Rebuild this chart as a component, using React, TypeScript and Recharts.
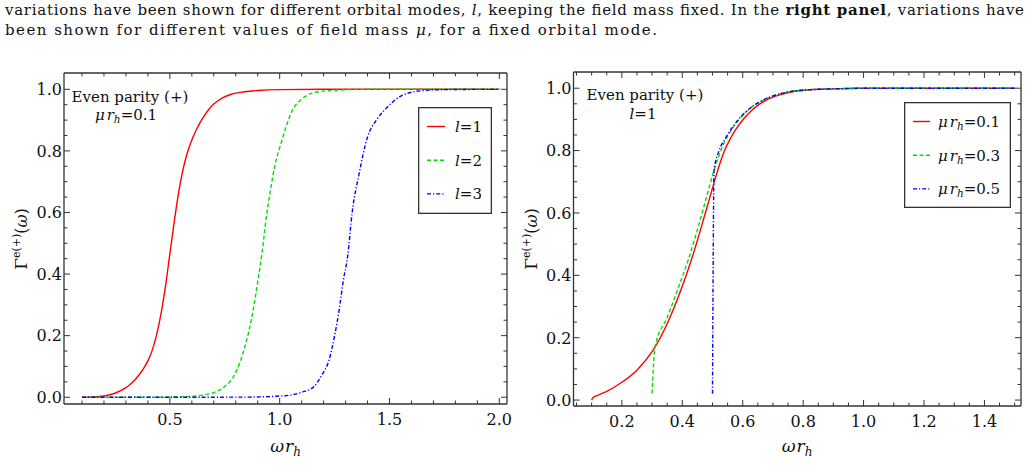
import React from 'react';
import { LineChart, Line, XAxis, YAxis, Legend } from 'recharts';

// ---------- Left panel data (fixed mass, varying l) ----------
const l1Omega = [0.1, 0.15, 0.2, 0.25, 0.3, 0.32, 0.34, 0.36, 0.38, 0.4, 0.42, 0.44, 0.46, 0.48, 0.5, 0.52, 0.54, 0.56, 0.58, 0.6, 0.62, 0.64, 0.66, 0.68, 0.7, 0.74, 0.78, 0.84, 0.9, 1.0, 1.2, 1.6, 2.0];
const l1Gamma = [0, 0.001, 0.004, 0.013, 0.031, 0.042, 0.056, 0.073, 0.093, 0.118, 0.153, 0.204, 0.272, 0.36, 0.465, 0.57, 0.665, 0.74, 0.795, 0.835, 0.868, 0.895, 0.918, 0.937, 0.952, 0.972, 0.984, 0.992, 0.996, 0.999, 1, 1, 1];

const l2Omega = [0.1, 0.5, 0.6, 0.65, 0.7, 0.75, 0.79, 0.82, 0.84, 0.86, 0.88, 0.9, 0.92, 0.94, 0.96, 0.98, 1.0, 1.03, 1.06, 1.1, 1.15, 1.25, 1.4, 2.0];
const l2Gamma = [0, 0.0005, 0.003, 0.007, 0.015, 0.035, 0.067, 0.115, 0.16, 0.215, 0.285, 0.375, 0.47, 0.59, 0.68, 0.76, 0.81, 0.88, 0.935, 0.968, 0.988, 0.997, 1, 1];

const l3Omega = [0.1, 0.8, 0.95, 1.0, 1.05, 1.1, 1.156, 1.19, 1.225, 1.25, 1.27, 1.29, 1.31, 1.33, 1.36, 1.4, 1.44, 1.48, 1.55, 1.64, 1.75, 2.0];
const l3Gamma = [0, 0.0002, 0.002, 0.004, 0.007, 0.016, 0.034, 0.07, 0.121, 0.2, 0.28, 0.38, 0.46, 0.6, 0.72, 0.845, 0.9, 0.935, 0.977, 0.995, 0.999, 1];

// ---------- Right panel data (l = 1, varying mass) ----------
const mu1Omega = [0.1, 0.105, 0.12, 0.15, 0.2, 0.25, 0.3, 0.35, 0.4, 0.42, 0.44, 0.46, 0.48, 0.5, 0.52, 0.54, 0.56, 0.58, 0.6, 0.62, 0.65, 0.68, 0.72, 0.76, 0.82, 0.9, 1.0, 1.5];
const mu1Gamma = [0, 0.008, 0.015, 0.028, 0.057, 0.096, 0.155, 0.245, 0.365, 0.42, 0.48, 0.545, 0.612, 0.68, 0.745, 0.8, 0.84, 0.872, 0.898, 0.92, 0.945, 0.963, 0.978, 0.988, 0.995, 0.998, 1, 1];

const mu3Omega = [0.3, 0.31, 0.35, 0.4, 0.42, 0.44, 0.46, 0.48, 0.5, 0.52, 0.54, 0.56, 0.58, 0.6, 0.63, 0.66, 0.7, 0.75, 0.82, 0.9, 1.0, 1.5];
const mu3Gamma = [0.021, 0.171, 0.265, 0.395, 0.45, 0.513, 0.58, 0.65, 0.72, 0.78, 0.828, 0.862, 0.89, 0.913, 0.94, 0.958, 0.975, 0.988, 0.995, 0.998, 1, 1];

const mu5Omega = [0.5, 0.502, 0.505, 0.52, 0.54, 0.56, 0.58, 0.6, 0.63, 0.66, 0.7, 0.75, 0.82, 0.9, 1.0, 1.5];
const mu5Gamma = [0.02, 0.4, 0.735, 0.795, 0.835, 0.866, 0.893, 0.915, 0.94, 0.958, 0.975, 0.988, 0.995, 0.998, 1, 1];

// ---------- Ticks ----------
const leftXTicks = [0.1, 0.2, 0.3, 0.4, 0.5, 0.6, 0.7, 0.8, 0.9, 1.0, 1.1, 1.2, 1.3, 1.4, 1.5, 1.6, 1.7, 1.8, 1.9, 2.0];
const leftXMajor = [0.5, 1.0, 1.5, 2.0];
const rightXTicks = [0.05, 0.1, 0.15, 0.2, 0.25, 0.3, 0.35, 0.4, 0.45, 0.5, 0.55, 0.6, 0.65, 0.7, 0.75, 0.8, 0.85, 0.9, 0.95, 1.0, 1.05, 1.1, 1.15, 1.2, 1.25, 1.3, 1.35, 1.4, 1.45, 1.5];
const rightXMajor = [0.2, 0.4, 0.6, 0.8, 1.0, 1.2, 1.4];
const yTicks = [0, 0.05, 0.1, 0.15, 0.2, 0.25, 0.3, 0.35, 0.4, 0.45, 0.5, 0.55, 0.6, 0.65, 0.7, 0.75, 0.8, 0.85, 0.9, 0.95, 1.0];
const yMajor = [0, 0.2, 0.4, 0.6, 0.8, 1.0];

const leftNames = ['l=1', 'l=2', 'l=3'];
const rightNames = ['0.1', '0.3', '0.5'];

const FONT = '"DejaVu Serif", serif';
const CAPTION_FONT = '"DejaVu Serif", serif';
const FRAME = '#333333';
const COLORS = ['#ff0000', '#00dd00', '#0000ff'];
const DASHES = [undefined, '4 2.5', '4 2 1.2 2'];

type Pt = { x: number; y: number };
const zip = (xs: number[], ys: number[]): Pt[] => xs.map((x, i) => ({ x, y: ys[i] }));
const near = (a: number, list: number[]) => list.some((m) => Math.abs(m - a) < 1e-6);

function makeTick(side: 'bottom' | 'top' | 'left' | 'right', majors: number[], label: boolean) {
  return (props: any) => {
    const { x, y, payload } = props;
    const v = Number(payload.value);
    const major = near(v, majors);
    const len = major ? 6 : 3.5;
    let x2 = x;
    let y2 = y;
    if (side === 'bottom') y2 = y - len;
    if (side === 'top') y2 = y + len;
    if (side === 'left') x2 = x + len;
    if (side === 'right') x2 = x - len;
    return (
      <g>
        <line x1={x} y1={y} x2={x2} y2={y2} stroke={FRAME} strokeWidth={1} />
        {label && major && side === 'bottom' && (
          <text x={x} y={y + 21} textAnchor="middle" fontFamily={FONT} fontSize={16} fill="#111">
            {v.toFixed(1)}
          </text>
        )}
        {label && major && side === 'left' && (
          <text x={x - 2} y={y + 5.8} textAnchor="end" fontFamily={FONT} fontSize={16} fill="#111">
            {v.toFixed(1)}
          </text>
        )}
      </g>
    );
  };
}

const LeftLegendLabel = ({ name }: { name: string }) => (
  <>
    <tspan fontStyle="italic">l</tspan>
    <tspan>{name.slice(1)}</tspan>
  </>
);

const RightLegendLabel = ({ name }: { name: string }) => (
  <>
    <tspan fontStyle="italic">μ</tspan>
    <tspan fontStyle="italic" dx={2}>r</tspan>
    <tspan fontStyle="italic" fontSize={10.5} dy={3}>h</tspan>
    <tspan dy={-3}>={name}</tspan>
  </>
);

function LegendBox(props: any) {
  const { payload, width, height, sx1, sx2, tx, names, right } = props;
  const items: any[] = payload && payload.length ? payload : names.map((n: string, i: number) => ({ value: n, color: COLORS[i] }));
  return (
    <svg width={width} height={height} style={{ display: 'block', overflow: 'visible' }}>
      <rect x={0.65} y={0.65} width={width - 1.3} height={height - 1.3} fill="#fff" stroke={FRAME} strokeWidth={1.3} />
      {items.map((it: any, i: number) => {
        const idx = Math.max(0, names.indexOf(it.value));
        const ry = 19.5 + i * 33.7;
        return (
          <g key={i}>
            <line x1={sx1} x2={sx2} y1={ry} y2={ry} stroke={COLORS[idx]} strokeWidth={1.4} strokeDasharray={DASHES[idx]} />
            <text x={tx} y={ry + 5.5} fontFamily={FONT} fontSize={15} fill="#111">
              {right ? <RightLegendLabel name={it.value} /> : <LeftLegendLabel name={it.value} />}
            </text>
          </g>
        );
      })}
    </svg>
  );
}

function Panel(props: any) {
  const { width, height, margin, yW, yRW, xH, xDomain, yDomain, xTicks, xMajor, series, names, legend, right } = props;
  return (
    <LineChart width={width} height={height} margin={margin}>
      <XAxis xAxisId="b" dataKey="x" type="number" orientation="bottom" domain={xDomain} allowDataOverflow ticks={xTicks} interval={0}
        height={xH} tickSize={0} tickMargin={0} tick={makeTick('bottom', xMajor, true)} tickLine={false}
        axisLine={{ stroke: FRAME, strokeWidth: 1.3 }} />
      <XAxis xAxisId="t" dataKey="x" type="number" orientation="top" domain={xDomain} allowDataOverflow ticks={xTicks} interval={0}
        height={1} tickSize={0} tickMargin={0} tick={makeTick('top', xMajor, false)} tickLine={false}
        axisLine={{ stroke: FRAME, strokeWidth: 1.3 }} />
      <YAxis yAxisId="l" type="number" orientation="left" domain={yDomain} allowDataOverflow ticks={yTicks} interval={0}
        width={yW} tickSize={0} tickMargin={0} tick={makeTick('left', yMajor, true)} tickLine={false}
        axisLine={{ stroke: FRAME, strokeWidth: 1.3 }} />
      <YAxis yAxisId="r" type="number" orientation="right" domain={yDomain} allowDataOverflow ticks={yTicks} interval={0}
        width={yRW} tickSize={0} tickMargin={0} tick={makeTick('right', yMajor, false)} tickLine={false}
        axisLine={{ stroke: FRAME, strokeWidth: 1.3 }} />
      {series.map((s: Pt[], i: number) => (
        <Line key={names[i]} xAxisId="b" yAxisId="l" data={s} dataKey="y" name={names[i]} type="monotone"
          stroke={COLORS[i]} strokeWidth={1.4} strokeDasharray={DASHES[i]} dot={false} activeDot={false}
          isAnimationActive={false} />
      ))}
      <Legend layout="horizontal" verticalAlign="middle" align="center"
        wrapperStyle={{ left: legend.left, top: legend.top, width: legend.width, height: legend.height, lineHeight: 0 }}
        content={(p: any) => (
          <LegendBox payload={p.payload} width={legend.width} height={legend.height} sx1={legend.sx1} sx2={legend.sx2}
            tx={legend.tx} names={names} right={right} />
        )} />
    </LineChart>
  );
}

const XTitle = ({ x, y }: { x: number; y: number }) => (
  <text x={x} y={y} textAnchor="middle" fontFamily={FONT} fontSize={17} fill="#111">
    <tspan fontStyle="italic">ω</tspan>
    <tspan fontStyle="italic" dx={1}>r</tspan>
    <tspan fontStyle="italic" fontSize={12} dy={4}>h</tspan>
  </text>
);

const YTitle = ({ x, y }: { x: number; y: number }) => (
  <text transform={`translate(${x},${y}) rotate(-90)`} textAnchor="middle" fontFamily={FONT} fontSize={16} fill="#111">
    <tspan fontSize={17}>Γ</tspan>
    <tspan fontSize={11} dy={-7}>e(+)</tspan>
    <tspan dy={7}>(</tspan>
    <tspan fontStyle="italic">ω</tspan>
    <tspan>)</tspan>
  </text>
);

export default function App() {
  const leftSeries = [zip(l1Omega, l1Gamma), zip(l2Omega, l2Gamma), zip(l3Omega, l3Gamma)];
  const rightSeries = [zip(mu1Omega, mu1Gamma), zip(mu3Omega, mu3Gamma), zip(mu5Omega, mu5Gamma)];
  return (
    <div style={{ position: 'absolute', left: 0, top: 0, width: 1028, height: 465, background: '#fff', overflow: 'hidden' }}>
      <div style={{ position: 'absolute', left: 0, top: 0 }}>
        <Panel width={515} height={465} margin={{ top: 72, right: 0, bottom: 0, left: 0 }} yW={64} yRW={8} xH={61}
          xDomain={[0.018, 2.035]} yDomain={[-0.022, 1.053]} xTicks={leftXTicks} xMajor={leftXMajor}
          series={leftSeries} names={leftNames} right={false}
          legend={{ left: 418, top: 106.7, width: 74, height: 107, sx1: 9, sx2: 27, tx: 37 }} />
      </div>
      <div style={{ position: 'absolute', left: 515, top: 0 }}>
        <Panel width={513} height={465} margin={{ top: 71, right: 0, bottom: 0, left: 0 }} yW={58.5} yRW={7} xH={59}
          xDomain={[0.04, 1.521]} yDomain={[-0.019, 1.052]} xTicks={rightXTicks} xMajor={rightXMajor}
          series={rightSeries} names={rightNames} right={true}
          legend={{ left: 389, top: 101.7, width: 107, height: 106, sx1: 9, sx2: 26, tx: 34 }} />
      </div>
      <svg width={1028} height={465} style={{ position: 'absolute', left: 0, top: 0, pointerEvents: 'none' }}>
        <text x={5} y={15} fontFamily={CAPTION_FONT} fontSize={15} fill="#111" textLength={1019} lengthAdjust="spacing">
          {'variations have been shown for different orbital modes, '}
          <tspan fontStyle="italic">l</tspan>
          {', keeping the field mass fixed. In the '}
          <tspan fontWeight="bold">right panel</tspan>
          {', variations have'}
        </text>
        <text x={5} y={35} fontFamily={CAPTION_FONT} fontSize={15} fill="#111" textLength={652} lengthAdjust="spacing">
          {'been shown for different values of field mass '}
          <tspan fontStyle="italic">μ</tspan>
          {', for a fixed orbital mode.'}
        </text>

        <text x={130} y={101.7} textAnchor="middle" fontFamily={FONT} fontSize={15} fill="#111">Even parity (+)</text>
        <text x={126} y={120} textAnchor="middle" fontFamily={FONT} fontSize={15} fill="#111">
          <tspan fontStyle="italic">μ</tspan>
          <tspan fontStyle="italic" dx={2}>r</tspan>
          <tspan fontStyle="italic" fontSize={10.5} dy={3}>h</tspan>
          <tspan dy={-3}>=0.1</tspan>
        </text>
        <text x={645} y={100} textAnchor="middle" fontFamily={FONT} fontSize={15} fill="#111">Even parity (+)</text>
        <text x={643} y={119.3} textAnchor="middle" fontFamily={FONT} fontSize={15} fill="#111">
          <tspan fontStyle="italic">l</tspan>
          <tspan>=1</tspan>
        </text>

        <XTitle x={285.5} y={452} />
        <XTitle x={797} y={452} />
        <YTitle x={26.5} y={239} />
        <YTitle x={536.5} y={239} />
      </svg>
    </div>
  );
}
